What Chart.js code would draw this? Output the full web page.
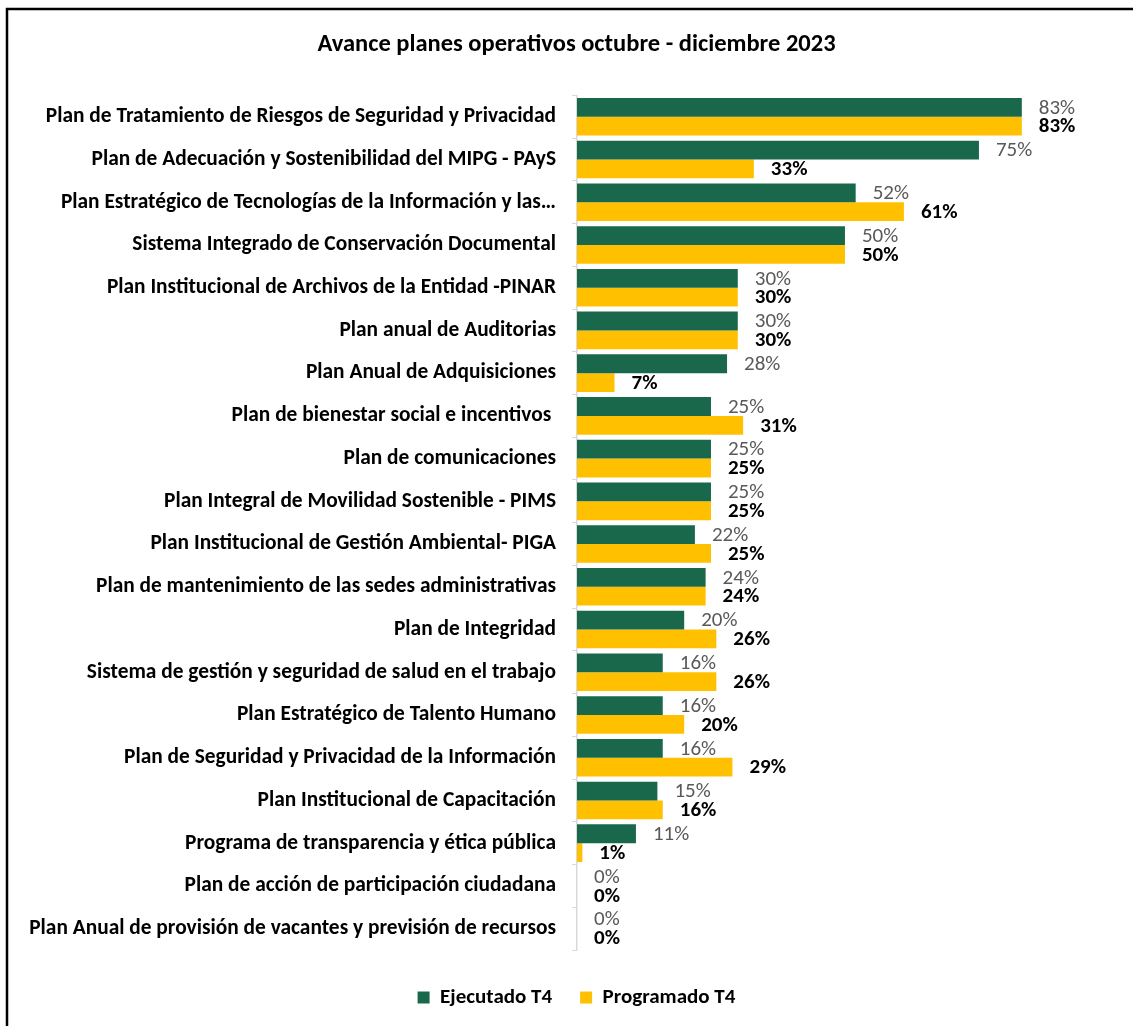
<!DOCTYPE html>
<html>
<head>
<meta charset="utf-8">
<script src="https://cdn.jsdelivr.net/npm/chart.js@4"></script>
<style>
html,body{margin:0;padding:0;background:#fff;}
#wrap{width:1133px;height:1026px;position:relative;}
</style>
</head>
<body>
<div id="wrap"><canvas id="c" width="1133" height="1026"></canvas></div>
<script>
const categories = [
  "Plan de Tratamiento de Riesgos de Seguridad y Privacidad",
  "Plan de Adecuación y Sostenibilidad del MIPG - PAyS",
  "Plan Estratégico de Tecnologías de la Información y las…",
  "Sistema Integrado de Conservación Documental",
  "Plan Institucional de Archivos de la Entidad -PINAR",
  "Plan anual de Auditorias",
  "Plan Anual de Adquisiciones",
  "Plan de bienestar social e incentivos ",
  "Plan de comunicaciones",
  "Plan Integral de Movilidad Sostenible - PIMS",
  "Plan Institucional de Gestión Ambiental- PIGA",
  "Plan de mantenimiento de las sedes administrativas",
  "Plan de Integridad",
  "Sistema de gestión y seguridad de salud en el trabajo",
  "Plan Estratégico de Talento Humano",
  "Plan de Seguridad y Privacidad de la Información",
  "Plan Institucional de Capacitación",
  "Programa de transparencia y ética pública",
  "Plan de acción de participación ciudadana",
  "Plan Anual de provisión de vacantes y previsión de recursos"
];
const ejecutado = [83, 75, 52, 50, 30, 30, 28, 25, 25, 25, 22, 24, 20, 16, 16, 16, 15, 11, 0, 0];
const programado = [83, 33, 61, 50, 30, 30, 7, 31, 25, 25, 25, 24, 26, 26, 20, 29, 16, 1, 0, 0];
const seriesNames = ["Ejecutado T4", "Programado T4"];
const chartTitle = "Avance planes operativos octubre - diciembre 2023";

const FONT = "Carlito, Lato, sans-serif";
const PAD_LEFT = 24;
const PAD_RIGHT = 4;

const borderPlugin = {
  id: 'frame',
  beforeDraw(chart) {
    const ctx = chart.ctx;
    ctx.save();
    ctx.fillStyle = '#fff';
    ctx.fillRect(0, 0, chart.width, chart.height);
    ctx.strokeStyle = '#000';
    ctx.lineWidth = 2.5;
    ctx.beginPath();
    ctx.moveTo(7, chart.height);
    ctx.lineTo(7, 9);
    ctx.lineTo(chart.width, 9);
    ctx.stroke();
    ctx.restore();
  }
};

const labelPlugin = {
  id: 'valueLabels',
  afterDatasetsDraw(chart) {
    const ctx = chart.ctx;
    ctx.save();
    ctx.textAlign = 'left';
    ctx.textBaseline = 'middle';
    chart.data.datasets.forEach((ds, di) => {
      const meta = chart.getDatasetMeta(di);
      ctx.font = (di === 1 ? 'bold ' : '') + '21px ' + FONT;
      ctx.fillStyle = di === 1 ? '#000000' : '#595959';
      meta.data.forEach((el, i) => {
        const v = ds.data[i];
        ctx.fillText(Math.round(v) + '%', el.x + 17, el.y + 1);
      });
    });
    ctx.restore();
  }
};

new Chart(document.getElementById('c'), {
  type: 'bar',
  data: {
    labels: categories,
    datasets: [
      { label: seriesNames[0], data: ejecutado, backgroundColor: '#1A684B', borderWidth: 0 },
      { label: seriesNames[1], data: programado, backgroundColor: '#FFC000', borderWidth: 0 }
    ]
  },
  options: {
    indexAxis: 'y',
    responsive: false,
    animation: false,
    devicePixelRatio: 1,
    categoryPercentage: 0.88,
    barPercentage: 1.0,
    layout: { padding: { left: PAD_LEFT, right: PAD_RIGHT, top: 0, bottom: 8 } },
    scales: {
      x: {
        min: 0, max: 103,
        display: true,
        ticks: { display: false },
        grid: { display: false },
        border: { display: false },
        afterFit(scale) { scale.height = 9; }
      },
      y: {
        afterFit(scale) { scale.width = 577 - PAD_LEFT; },
        ticks: {
          color: '#000',
          font: { family: FONT, size: 21.4, weight: 'bold' },
          padding: 16,
          autoSkip: false
        },
        grid: { drawOnChartArea: false, drawTicks: true, tickLength: 5, color: '#D9D9D9', offset: true },
        border: { display: true, color: '#D9D9D9', width: 1.5 }
      }
    },
    plugins: {
      title: {
        display: true,
        text: chartTitle,
        color: '#000',
        font: { family: FONT, size: 24.5, weight: 'bold' },
        padding: { top: 30, bottom: 36 }
      },
      legend: {
        position: 'bottom',
        labels: {
          color: '#000',
          font: { family: FONT, size: 21, weight: 'bold' },
          boxWidth: 12, boxHeight: 12,
          padding: 28
        }
      },
      tooltip: { enabled: false }
    }
  },
  plugins: [borderPlugin, labelPlugin]
});
</script>
</body>
</html>
